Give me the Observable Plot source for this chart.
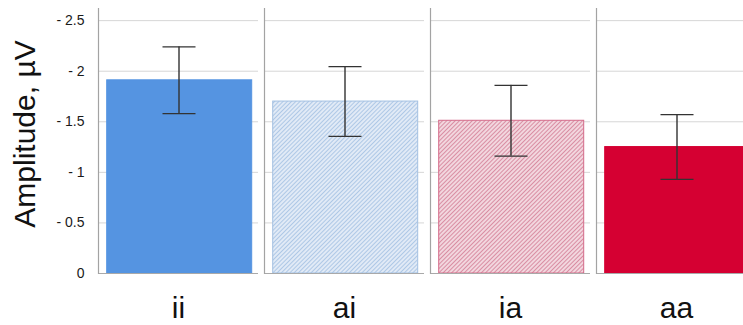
<!DOCTYPE html>
<html>
<head>
<meta charset="utf-8">
<script src="https://cdn.jsdelivr.net/npm/d3@7"></script>
<script src="https://cdn.jsdelivr.net/npm/@observablehq/plot@0.6"></script>
<style>
  html, body { margin: 0; padding: 0; background: #fff; overflow: hidden; }
</style>
</head>
<body>
<div id="chart"></div>
<script>
const conds = ["ii", "ai", "ia", "aa"];
const means = [-1.91, -1.70, -1.51, -1.25];
const errs = [0.33, 0.345, 0.35, 0.32];
const yTicks = [0, -0.5, -1, -1.5, -2, -2.5];
const yTitle = "Amplitude, µV";

const fillFor = { ii: "#5594e1", ai: "url(#hatchBlue)", ia: "url(#hatchPink)", aa: "#d50032" };
const strokeFor = { ii: "#5594e1", ai: "#a3c0e2", ia: "#d46a89", aa: "#d50032" };
const tickFormat = d => d === 0 ? "0" : "- " + Math.abs(d);

const data = conds.map((c, i) => ({ cond: c, mean: means[i], lo: means[i] + errs[i], hi: means[i] - errs[i] }));

const chart = Plot.plot({
  width: 760,
  height: 325,
  marginLeft: 98,
  marginRight: 4,
  marginTop: 8,
  marginBottom: 52,
  style: { fontFamily: "'Liberation Sans', Arial, sans-serif", background: "#fff", maxWidth: "none" },
  fx: { domain: conds, paddingInner: 6 / 166, paddingOuter: 0, axis: null, label: null },
  y: { domain: [0, -2.62], axis: null },
  color: { type: "identity" },
  marks: [
    Plot.gridY(yTicks.filter(d => d !== 0), { stroke: "#d6d6d6", strokeOpacity: 1 }),
    Plot.barY(data, {
      fx: "cond", y: "mean",
      fill: d => fillFor[d.cond], stroke: d => strokeFor[d.cond], strokeWidth: 1,
      insetLeft: 8.7, insetRight: 6.3
    }),
    Plot.ruleY([0], { stroke: "#a9a9a9", strokeWidth: 1.2 }),
    Plot.frame({ anchor: "left", stroke: "#a3a3a3", strokeWidth: 1.2 }),
    Plot.barY(data, { fx: "cond", y1: "lo", y2: "hi", fill: "#333", insetLeft: 80.3, insetRight: 78.3 }),
    Plot.tickY(data, { fx: "cond", y: "lo", stroke: "#333", strokeWidth: 1.3, insetLeft: 64.5, insetRight: 62.5 }),
    Plot.tickY(data, { fx: "cond", y: "hi", stroke: "#333", strokeWidth: 1.3, insetLeft: 64.5, insetRight: 62.5 }),
    Plot.text(yTicks, {
      fx: () => conds[0], y: d => d, text: tickFormat,
      frameAnchor: "left", textAnchor: "end", dx: -14, fontSize: 14, fill: "#1a1a1a"
    }),
    Plot.axisFx({ anchor: "bottom", tickSize: 0, tickPadding: 23, fontSize: 30, fill: "#111", label: null }),
    Plot.text([yTitle], { frameAnchor: "left", textAnchor: "middle", dx: -73, dy: -7, rotate: -90, fontSize: 30, fill: "#111", facet: "super" })
  ]
});

const defs = d3.select(chart).insert("defs", ":first-child");
function hatch(id, bg, line) {
  const p = defs.append("pattern")
    .attr("id", id)
    .attr("patternUnits", "userSpaceOnUse")
    .attr("width", 3).attr("height", 3)
    .attr("patternTransform", "rotate(45)");
  p.append("rect").attr("width", 3).attr("height", 3).attr("fill", bg);
  p.append("line").attr("x1", 1.5).attr("y1", 0).attr("x2", 1.5).attr("y2", 3)
    .attr("stroke", line).attr("stroke-width", 1.3);
}
hatch("hatchBlue", "#eaf1f9", "#aec8e6");
hatch("hatchPink", "#f7e3e9", "#d98ea3");

document.getElementById("chart").appendChild(chart);
</script>
</body>
</html>
